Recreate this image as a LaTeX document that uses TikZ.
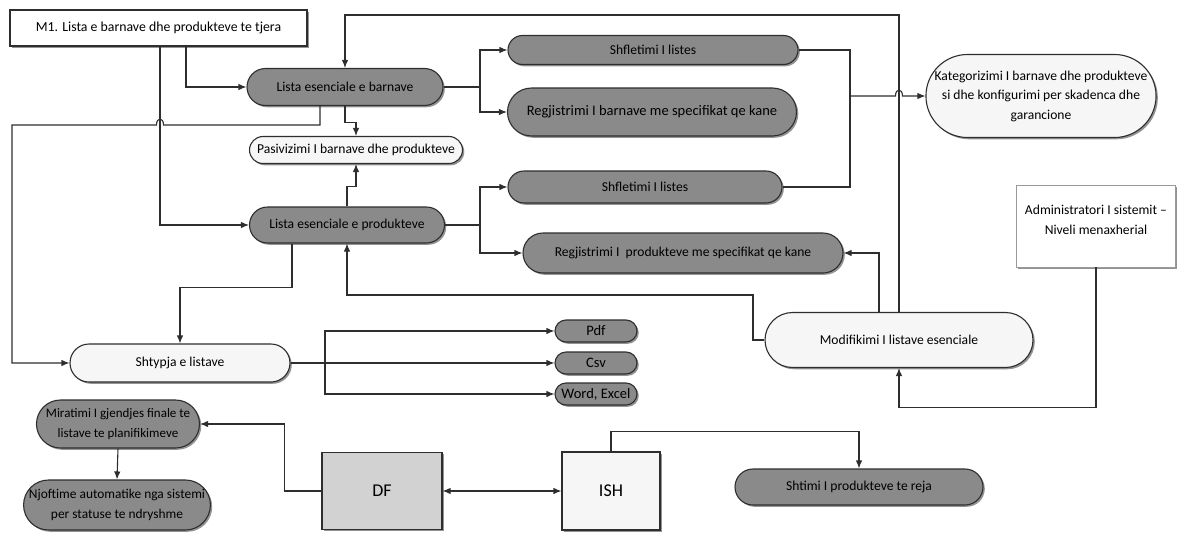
\documentclass[tikz,border=0pt]{standalone}
\usepackage{fontspec}
\setmainfont{Carlito}
\usetikzlibrary{shadows,arrows.meta,shapes.misc}
\definecolor{darkfill}{HTML}{8A8A8A}
\definecolor{edge}{HTML}{2E2E2E}
\definecolor{lightfill}{HTML}{F6F6F6}
\definecolor{dffill}{HTML}{D2D2D2}
\begin{document}
\begin{tikzpicture}[x=1pt,y=-1pt,
  base/.style={font=\fontsize{13.6}{19.5}\selectfont, align=center, inner sep=0pt, line width=1.1pt, draw=edge},
  shad/.style={drop shadow={shadow xshift=1.8pt, shadow yshift=-1.8pt, fill=black!65, opacity=0.65}},
  darkpill/.style={base, rounded rectangle, fill=darkfill, shad},
  lightpill/.style={base, rounded rectangle, fill=lightfill, shad},
  boxnode/.style={base, rectangle, shad},
  arr/.style={line width=1.1pt, draw=edge, -{Latex[length=8pt,width=6.5pt]}},
  arrtwo/.style={line width=1.1pt, draw=edge, {Latex[length=8pt,width=6.5pt]}-{Latex[length=8pt,width=6.5pt]}},
  ln/.style={line width=1.1pt, draw=edge}]
\useasboundingbox (0,0) rectangle (1181,533);
% nodes
\node[boxnode, fill=white, minimum width=297pt, minimum height=36pt, font=\fontsize{13.8}{16}\selectfont] (m1) at (158.5,28) {M1. Lista e barnave dhe produkteve te tjera};
\node[darkpill, minimum width=196pt, minimum height=37pt] (lb) at (345,87) {Lista esenciale e barnave};
\node[lightpill, minimum width=213pt, minimum height=27pt] (pas) at (356,150) {Pasivizimi I barnave dhe produkteve};
\node[darkpill, minimum width=195pt, minimum height=36pt] (lp) at (347,225) {Lista esenciale e produkteve};
\node[darkpill, minimum width=290pt, minimum height=29pt] (sh1) at (653,50) {Shfletimi I listes};
\node[darkpill, minimum width=289pt, minimum height=48pt, font=\fontsize{14.5}{19.5}\selectfont] (rg1) at (652,112) {Regjistrimi I barnave me specifikat qe kane};
\node[darkpill, minimum width=274pt, minimum height=32pt] (sh2) at (645,187) {Shfletimi I listes};
\node[darkpill, minimum width=320pt, minimum height=40pt] (rg2) at (683,253) {Regjistrimi I\ \ produkteve me specifikat qe kane};
\node[lightpill, minimum width=223pt, minimum height=83pt] (kat) at (1041,96) {Kategorizimi I barnave dhe produkteve\\si dhe konfigurimi per skadenca dhe\\garancione};
\node[boxnode, fill=white, draw=gray!80, line width=0.6pt, minimum width=159pt, minimum height=82pt, text depth=12pt] (adm) at (1096,226) {Administratori I sistemit --\\Niveli menaxherial};
\node[lightpill, minimum width=268pt, minimum height=55pt] (mod) at (899,340) {Modifikimi I listave esenciale};
\node[lightpill, minimum width=220pt, minimum height=38pt] (sht) at (180,363) {Shtypja e listave};
\node[darkpill, minimum width=82pt, minimum height=22pt, font=\fontsize{14.5}{16}\selectfont] (pdf) at (596,331) {Pdf};
\node[darkpill, minimum width=82pt, minimum height=22pt, font=\fontsize{14.5}{16}\selectfont] (csv) at (596,363) {Csv};
\node[darkpill, minimum width=82pt, minimum height=22pt, font=\fontsize{14.5}{16}\selectfont] (we) at (596,394) {Word, Excel};
\node[darkpill, minimum width=163pt, minimum height=48pt, font=\fontsize{13}{19.5}\selectfont] (mir) at (118,424) {Miratimi I gjendjes finale te\\listave te planifikimeve};
\node[darkpill, minimum width=183pt, minimum height=50pt, font=\fontsize{13.4}{19.5}\selectfont] (nj) at (117,505) {Njoftime automatike nga sistemi\\per statuse te ndryshme};
\node[boxnode, fill=dffill, minimum width=120pt, minimum height=77pt, font=\fontsize{18}{20}\selectfont] (df) at (382,491) {DF};
\node[boxnode, fill=lightfill, minimum width=98pt, minimum height=78pt, font=\fontsize{18}{20}\selectfont] (ish) at (611,491) {ISH};
\node[darkpill, minimum width=248pt, minimum height=36pt] (shn) at (859,487) {Shtimi I produkteve te reja};
% helper coordinates
\coordinate (xa) at (186,0);
\coordinate (xb) at (160,0);
\coordinate (xc) at (320,0);
\coordinate (xd) at (480,0);
\coordinate (xe) at (850,0);
\coordinate (top) at (899,15);
\coordinate (xr) at (879,0);
\coordinate (xg) at (292,0);
\coordinate (split) at (325,363);
% connectors
\draw[arr] (m1.south -| xa) |- (lb.west);
\draw[arr] (m1.south -| xb) |- (lp.west);
\draw[arr] (lb.south -| xc) -- (320,125) -- (163.5,125) .. controls (163.5,117) and (156.5,117) .. (156.5,125) -- (12,125) |- (sht.west);
\draw[arr] (lb.south) -- ++(0,16) -| (pas.north);
\draw[arr] (lp.north) -- ++(0,-20) -| (pas.south);
\draw[arr] (lb.east) -- (xd |- lb.east) |- (sh1.west);
\draw[arr] (xd |- lb.east) |- (rg1.west);
\draw[arr] (lp.east) -- (xd |- lp.east) |- (sh2.west);
\draw[arr] (xd |- lp.east) |- (rg2.west);
\draw[ln] (sh1.east) -| (xe |- sh2.east) -- (sh2.east);
\draw[arr] (xe |- kat.west) -- (895.5,96) .. controls (895.5,88) and (902.5,88) .. (902.5,96) -- (kat.west);
\draw[arr] (mod.north) -- (top) -| (lb.north);
\draw[arr] (mod.north -| xr) |- (rg2.east);
\draw[arr] (mod.west) -| (753,295) -| (lp.south);
\draw[arr] (lp.south -| xg) -- ++(0,44) -| (sht.north);
\draw[ln] (sht.east) -- (split);
\draw[arr] (split) |- (pdf.west);
\draw[arr] (split) -- (csv.west);
\draw[arr] (split) |- (we.west);
\draw[arr] (adm.south) -- ++(0,140) -| (mod.south);
\draw[arr] (mir.south) -- (nj.north);
\draw[arr] (df.west) -- ++(-37,0) |- (mir.east);
\draw[arrtwo] (df.east) -- (ish.west);
\draw[arr] (ish.north) -- ++(0,-20) -| (shn.north);
\end{tikzpicture}
\end{document}
